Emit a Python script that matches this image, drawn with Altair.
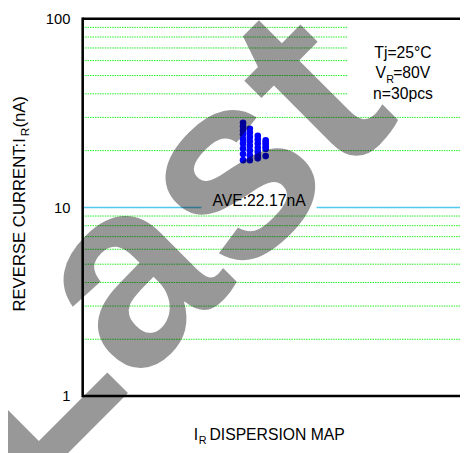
import altair as alt
import pandas as pd

# ---- data ----
col_x = [42.5, 44.3, 46.4, 48.5]
ir_col1 = [28.1, 26.9, 25.6, 24.4, 23.0, 21.8, 20.5, 19.2, 17.8]
ir_col2 = [26.1, 24.9, 23.6, 22.4, 21.2, 20.0, 18.9, 17.8]
ir_col3 = [24.0, 22.9, 21.8, 20.7, 19.7, 18.8, 18.2]
ir_col4 = [22.7, 22.1, 21.5, 20.9, 20.4, 18.7]

y_ticks = [1, 10, 100]
minor_grid = [2, 3, 4, 5, 6, 7, 8, 9, 20, 30, 40, 50, 60, 70, 80, 90]
ave_line = [10]

ave_label = "AVE:22.17nA"
cond_1 = "Tj=25°C"
cond_2a, cond_2b, cond_2c = "V", "R", "=80V"
cond_3 = "n=30pcs"
ytitle_a, ytitle_b, ytitle_c = "REVERSE CURRENT:I", "R", "(nA)"
xtitle_a, xtitle_b, xtitle_c = "I", "R", "DISPERSION MAP"
watermark = "Last"

FONT = "Liberation Sans"
W, H = 384, 384

rows = []
for cx, col in zip(col_x, [ir_col1, ir_col2, ir_col3, ir_col4]):
    for v in col:
        rows.append({"x": cx, "ir": v})
pts = pd.DataFrame(rows)

yscale = alt.Scale(type="log", domain=[1, 100], nice=False)
xscale = alt.Scale(domain=[0, 100], nice=False, zero=False)

grid = alt.Chart(pd.DataFrame({"v": minor_grid})).mark_rule(
    color="#22EE22", strokeDash=[1.5, 1], strokeWidth=1
).encode(
    y=alt.Y("v:Q", scale=yscale,
            axis=alt.Axis(values=y_ticks, title=None, ticks=False, domain=False,
                          grid=False, labelFont=FONT, labelFontSize=15,
                          labelColor="black", labelPadding=13, format="d"))
)

ave = alt.Chart(pd.DataFrame({"v": ave_line})).mark_rule(
    color="#55C8EE", strokeWidth=1.5
).encode(y=alt.Y("v:Q", scale=yscale))

ave_box = alt.Chart(pd.DataFrame({"a": [0]})).mark_rect(color="white").encode(
    x=alt.value(121), x2=alt.value(238), y=alt.value(178), y2=alt.value(195))
cond_box = alt.Chart(pd.DataFrame({"a": [0]})).mark_rect(color="white").encode(
    x=alt.value(269), x2=alt.value(W), y=alt.value(1), y2=alt.value(90))


def label(txt, x, y, size, align="left", angle=0):
    return alt.Chart(pd.DataFrame({"t": [txt]})).mark_text(
        font=FONT, fontSize=size, color="black", align=align,
        baseline="alphabetic", angle=angle
    ).encode(text="t:N", x=alt.value(x), y=alt.value(y))


ave_text = alt.Chart(pd.DataFrame({"t": [ave_label], "v": ave_line})).mark_text(
    font=FONT, fontSize=16, color="black", align="center", baseline="alphabetic", dy=-1
).encode(text="t:N", x=alt.value(179.5), y=alt.Y("v:Q", scale=yscale))

texts = [
    label(cond_1, 326, 40, 16, align="center"),
    label(cond_2a, 298, 60.7, 16),
    label(cond_2b, 309, 65, 11),
    label(cond_2c, 316, 60.7, 16),
    label(cond_3, 326, 81.7, 16, align="center"),
    label(ytitle_a, -59, 298, 17, angle=270),
    label(ytitle_b, -55, 119.5, 12, angle=270),
    label(ytitle_c, -59, 110.8, 17, angle=270),
    label(xtitle_a, 113, 429, 16),
    label(xtitle_b, 118, 433, 11),
    label(xtitle_c, 129, 429, 16),
]

points = alt.Chart(pts).mark_circle(color="#0000FF", size=45, opacity=1).encode(
    x=alt.X("x:Q", scale=xscale, axis=None),
    y=alt.Y("ir:Q", scale=yscale),
)

frame_l = alt.Chart(pd.DataFrame({"a": [0]})).mark_rule(color="black", strokeWidth=2.6).encode(
    x=alt.value(0), y=alt.value(-1.3), y2=alt.value(H + 1.3))
frame_t = alt.Chart(pd.DataFrame({"a": [0]})).mark_rule(color="black", strokeWidth=2.6).encode(
    x=alt.value(0), x2=alt.value(W + 10), y=alt.value(0))
frame_b = alt.Chart(pd.DataFrame({"a": [0]})).mark_rule(color="black", strokeWidth=2.6).encode(
    x=alt.value(0), x2=alt.value(W + 10), y=alt.value(H))

wm = alt.Chart(pd.DataFrame({"t": [watermark]})).mark_text(
    font=FONT, fontWeight="bold", fontSize=267, color="black", opacity=0.4,
    align="left", baseline="alphabetic", angle=315
).encode(text="t:N", x=alt.value(-63.4), y=alt.value(490.5))

chart = alt.layer(
    grid, ave, ave_box, cond_box, ave_text, *texts, points,
    frame_l, frame_t, frame_b, wm
).properties(
    width=W, height=H,
    autosize=alt.AutoSizeParams(type="none"),
    padding={"left": 76, "top": 7, "right": 0, "bottom": 54},
).configure_view(stroke=None).configure(background="white")

chart.save("out.html", embed_options={"renderer": "svg", "actions": False})
